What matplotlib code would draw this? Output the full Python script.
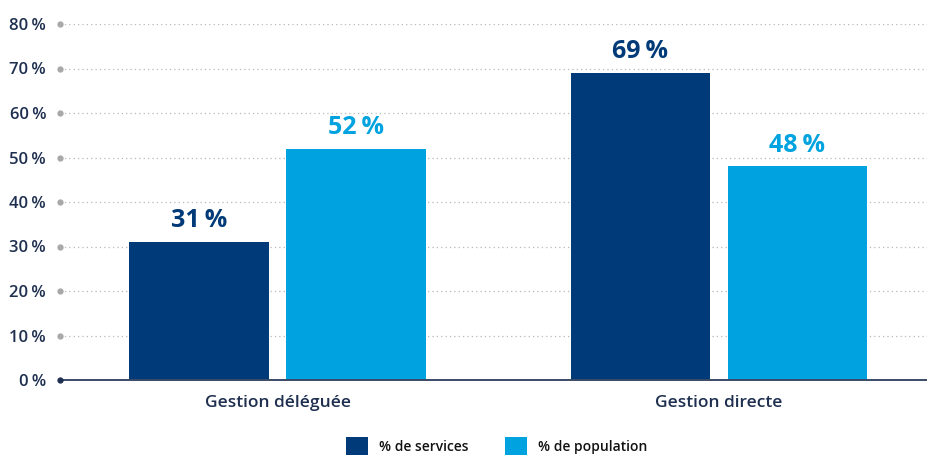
import matplotlib
matplotlib.use("Agg")
import matplotlib.pyplot as plt
from matplotlib.patches import Patch
import numpy as np

plt.rcParams['font.family'] = ['Open Sans', 'DejaVu Sans']

categories = ["Gestion déléguée", "Gestion directe"]
services = [31, 69]
population = [52, 48]
series_names = ["% de services", "% de population"]
yticks = [0, 10, 20, 30, 40, 50, 60, 70, 80]

dark = "#003a78"
light = "#00a3e0"
text_col = "#1e2f4f"

fig = plt.figure(figsize=(9.28, 4.57), dpi=100)
ax = fig.add_axes([60 / 928, 1 - 380 / 457, 1 - 60 / 928, (380 - 24) / 457])

x = np.arange(len(categories))
w = 0.317
off = 0.178

# gridlines with a dot at the left end
for t in yticks[1:]:
    ax.plot([-0.494, 1.474], [t, t], color="#b8b8b8", lw=0.9, ls=(0, (1, 2.5)), zorder=0)
    ax.plot([-0.494], [t], marker="o", ms=3.5, color="#a8a8a8", clip_on=False, zorder=1)
ax.plot([-0.494, 1.474], [0, 0], color="#3a4a66", lw=1.4, zorder=3, clip_on=False)
ax.plot([-0.494], [0], marker="o", ms=3.5, color="#1e2f4f", clip_on=False, zorder=4)

ax.bar(x - off, services, w, color=dark, zorder=2)
ax.bar(x + off, population, w, color=light, zorder=2)

for xi, v in zip(x - off, services):
    ax.text(xi, v + 2.0, f"{v}\u202f%", ha="center", va="bottom", fontsize=18,
            fontweight="bold", color=dark)
for xi, v in zip(x + off, population):
    ax.text(xi, v + 2.0, f"{v}\u202f%", ha="center", va="bottom", fontsize=18,
            fontweight="bold", color=light)

ax.set_xlim(-0.494, 1.474)
ax.set_ylim(0, 80)
ax.set_yticks(yticks)
ax.set_yticklabels([f"{t}\u202f%" for t in yticks], fontsize=12, color=text_col, fontweight="semibold")
ax.set_xticks(x)
ax.set_xticklabels(categories, fontsize=12.5, color=text_col, fontweight="semibold")
ax.tick_params(axis="y", length=0, pad=10)
ax.tick_params(axis="x", length=0, pad=11)
for s in ax.spines.values():
    s.set_visible(False)

handles = [Patch(facecolor=dark, label=series_names[0]),
           Patch(facecolor=light, label=series_names[1])]
leg = fig.legend(handles=handles, loc="center", bbox_to_anchor=(0.535, 1 - 446 / 457),
                 ncol=2, frameon=False, handlelength=1.6, handleheight=1.6,
                 columnspacing=2.6, handletextpad=0.8, prop={"size": 10, "weight": "semibold"})
for t in leg.get_texts():
    t.set_color("#111111")

fig.savefig("out.png", dpi=100)
